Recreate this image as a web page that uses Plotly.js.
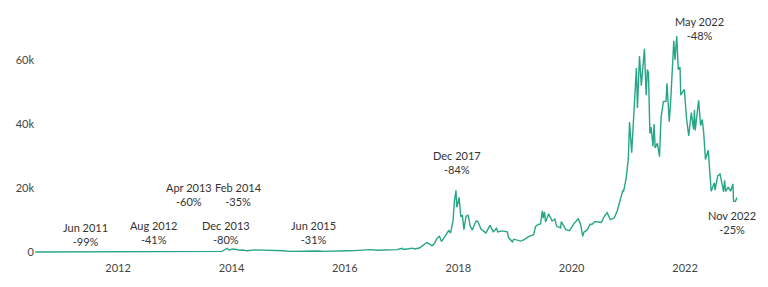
<!DOCTYPE html>
<html>
<head>
<meta charset="utf-8">
<script src="https://cdn.plot.ly/plotly-3.0.1.min.js"></script>
<style>html,body{margin:0;padding:0;background:#fff;}#chart{width:768px;height:287px;}</style>
</head>
<body>
<div id="chart"></div>
<script>
var dates = [
"2010-07-17","2010-10-01","2011-01-01","2011-02-10","2011-04-15","2011-05-15","2011-06-08","2011-07-01","2011-08-01","2011-09-01","2011-10-01","2011-11-18",
"2012-01-01","2012-02-01","2012-04-01","2012-06-01","2012-08-16","2012-09-01","2012-11-01",
"2013-01-01","2013-02-01","2013-03-01","2013-04-09","2013-04-16","2013-05-01","2013-07-05","2013-08-01","2013-10-01","2013-11-01","2013-11-18","2013-12-04","2013-12-18",
"2014-01-05","2014-02-01","2014-02-25","2014-03-15","2014-04-10","2014-06-01","2014-07-01","2014-09-01","2014-10-10","2014-12-01",
"2015-01-14","2015-03-01","2015-06-01","2015-07-10","2015-08-24","2015-11-04","2015-12-15",
"2016-01-15","2016-03-01","2016-06-16","2016-08-02","2016-10-01","2016-12-01",
"2017-01-04","2017-01-12","2017-02-15","2017-03-10","2017-03-25","2017-04-25","2017-05-10","2017-05-25","2017-06-12","2017-07-01","2017-07-16","2017-08-01","2017-08-17","2017-09-01","2017-09-15","2017-10-01","2017-10-12","2017-10-21","2017-11-01","2017-11-12","2017-11-28","2017-12-07","2017-12-17","2017-12-22","2017-12-28",
"2018-01-06","2018-01-17","2018-01-27","2018-02-06","2018-02-20","2018-03-05","2018-03-18","2018-04-01","2018-04-24","2018-05-05","2018-05-28","2018-06-12","2018-06-28","2018-07-24","2018-08-14","2018-09-04","2018-09-12","2018-10-10","2018-11-13","2018-11-20","2018-12-15","2018-12-24",
"2019-01-15","2019-02-07","2019-03-01","2019-04-02","2019-05-01","2019-05-14","2019-05-31","2019-06-15","2019-06-26","2019-07-02","2019-07-10","2019-07-17","2019-08-06","2019-08-28","2019-09-15","2019-09-26","2019-10-22","2019-10-26","2019-11-25","2019-12-18",
"2020-01-15","2020-02-12","2020-02-28","2020-03-12","2020-03-20","2020-04-10","2020-04-30","2020-05-10","2020-05-31","2020-06-15","2020-07-10","2020-07-28","2020-08-17","2020-09-06","2020-10-01","2020-10-21","2020-11-05","2020-11-25","2020-12-01","2020-12-17","2020-12-31",
"2021-01-08","2021-01-22","2021-02-08","2021-02-21","2021-02-28","2021-03-13","2021-03-25","2021-04-14","2021-04-25","2021-05-03","2021-05-10","2021-05-19","2021-05-27","2021-06-08","2021-06-15","2021-06-22","2021-07-06","2021-07-20","2021-07-30","2021-08-14","2021-08-31","2021-09-06","2021-09-21","2021-10-01","2021-10-20","2021-10-28","2021-11-08","2021-11-18","2021-11-29","2021-12-04","2021-12-27",
"2022-01-10","2022-01-24","2022-02-10","2022-02-24","2022-03-02","2022-03-07","2022-03-29","2022-04-11","2022-04-21","2022-04-30","2022-05-12","2022-05-30","2022-06-13","2022-06-18","2022-07-08","2022-07-13","2022-07-30","2022-08-14","2022-09-06","2022-09-12","2022-09-20","2022-10-05","2022-10-21","2022-11-05","2022-11-09","2022-11-21","2022-12-01"
];
var prices = [
0.05,0.06,0.3,1.0,1.0,7,29.6,15,13,8,5,2.1,
5,6,5,5.3,15,10,11,
13,20,34,230,80,110,70,100,125,200,700,1150,550,
950,800,550,630,370,650,630,480,360,380,
180,260,225,290,210,400,450,
380,430,750,550,610,750,
1130,780,1000,1200,930,1250,1750,2400,2950,2450,1950,2700,4300,4900,3300,4400,5500,6000,6700,5900,9800,16000,19300,14000,15000,
17100,11000,11500,7000,11200,11500,8200,6900,9600,9700,7100,6600,5900,8300,6300,7400,6300,6600,6300,4500,3200,4000,
3600,3400,3850,4900,5400,8000,8600,8800,12900,10600,12500,9400,11900,9700,10300,8100,7500,9500,7000,6650,
8800,10350,8700,4900,6200,6900,8700,8600,9500,9400,9250,11000,12300,10100,10600,12900,15600,19100,19000,23000,29000,
40600,31000,46000,57500,45000,61200,52000,63500,49000,57000,56000,37000,39000,33000,40000,32500,34000,29800,42000,47000,47100,52700,40700,48000,66000,60000,67500,57000,57800,49000,50800,
41800,36300,43600,38300,44400,38000,47400,39500,41400,37700,28900,31800,22500,19000,21600,19300,23800,24400,18800,22400,18900,20300,19000,21300,15900,15800,17000
];
var yTicks = [0, 20000, 40000, 60000];
var yTickText = ["0", "20k", "40k", "60k"];
var drawdownPeriods = ["Jun 2011","Aug 2012","Apr 2013","Feb 2014","Dec 2013","Jun 2015","Dec 2017","May 2022","Nov 2022"];
var drawdownPcts = ["-99%","-41%","-60%","-35%","-80%","-31%","-84%","-48%","-25%"];

// annotation anchor positions (layout only)
var annPos = [
  ["2011-06-08", 5500], ["2012-08-19", 6250], ["2013-04-02", 18000], ["2014-02-18", 18000],
  ["2013-11-26", 6250], ["2015-06-10", 6100], ["2017-12-24", 28000], ["2022-04-06", 70000], ["2022-10-30", 9100]
];
var annotations = drawdownPeriods.map(function(p, i){
  return {x: annPos[i][0], y: annPos[i][1], xref:'x', yref:'y', text: p + '<br>' + drawdownPcts[i],
    showarrow:false, font:{family:'Lato, sans-serif', size:11, color:'#333'}, align:'center'};
});

var trace = {x: dates, y: prices, type:'scatter', mode:'lines',
  line:{color:'#27a687', width:1.4}, hoverinfo:'skip'};

var layout = {
  width:768, height:287,
  margin:{l:35, r:18, t:8, b:27},
  paper_bgcolor:'#fff', plot_bgcolor:'#fff',
  showlegend:false,
  font:{family:'Lato, sans-serif', size:11, color:'#444'},
  xaxis:{type:'date', range:['2010-07-15','2023-02-23'], showgrid:false, zeroline:false, showline:false,
    tick0:'2012-01-01', dtick:'M24', tickformat:'%Y', ticks:'', tickfont:{size:11, color:'#444'}},
  yaxis:{range:[-2500, 76250], showgrid:false, zeroline:false, showline:false,
    tickvals:yTicks, ticktext:yTickText, ticks:'', tickfont:{size:11, color:'#444'}},
  annotations: annotations
};
Plotly.newPlot('chart', [trace], layout, {staticPlot:true, displayModeBar:false});
</script>
</body>
</html>
